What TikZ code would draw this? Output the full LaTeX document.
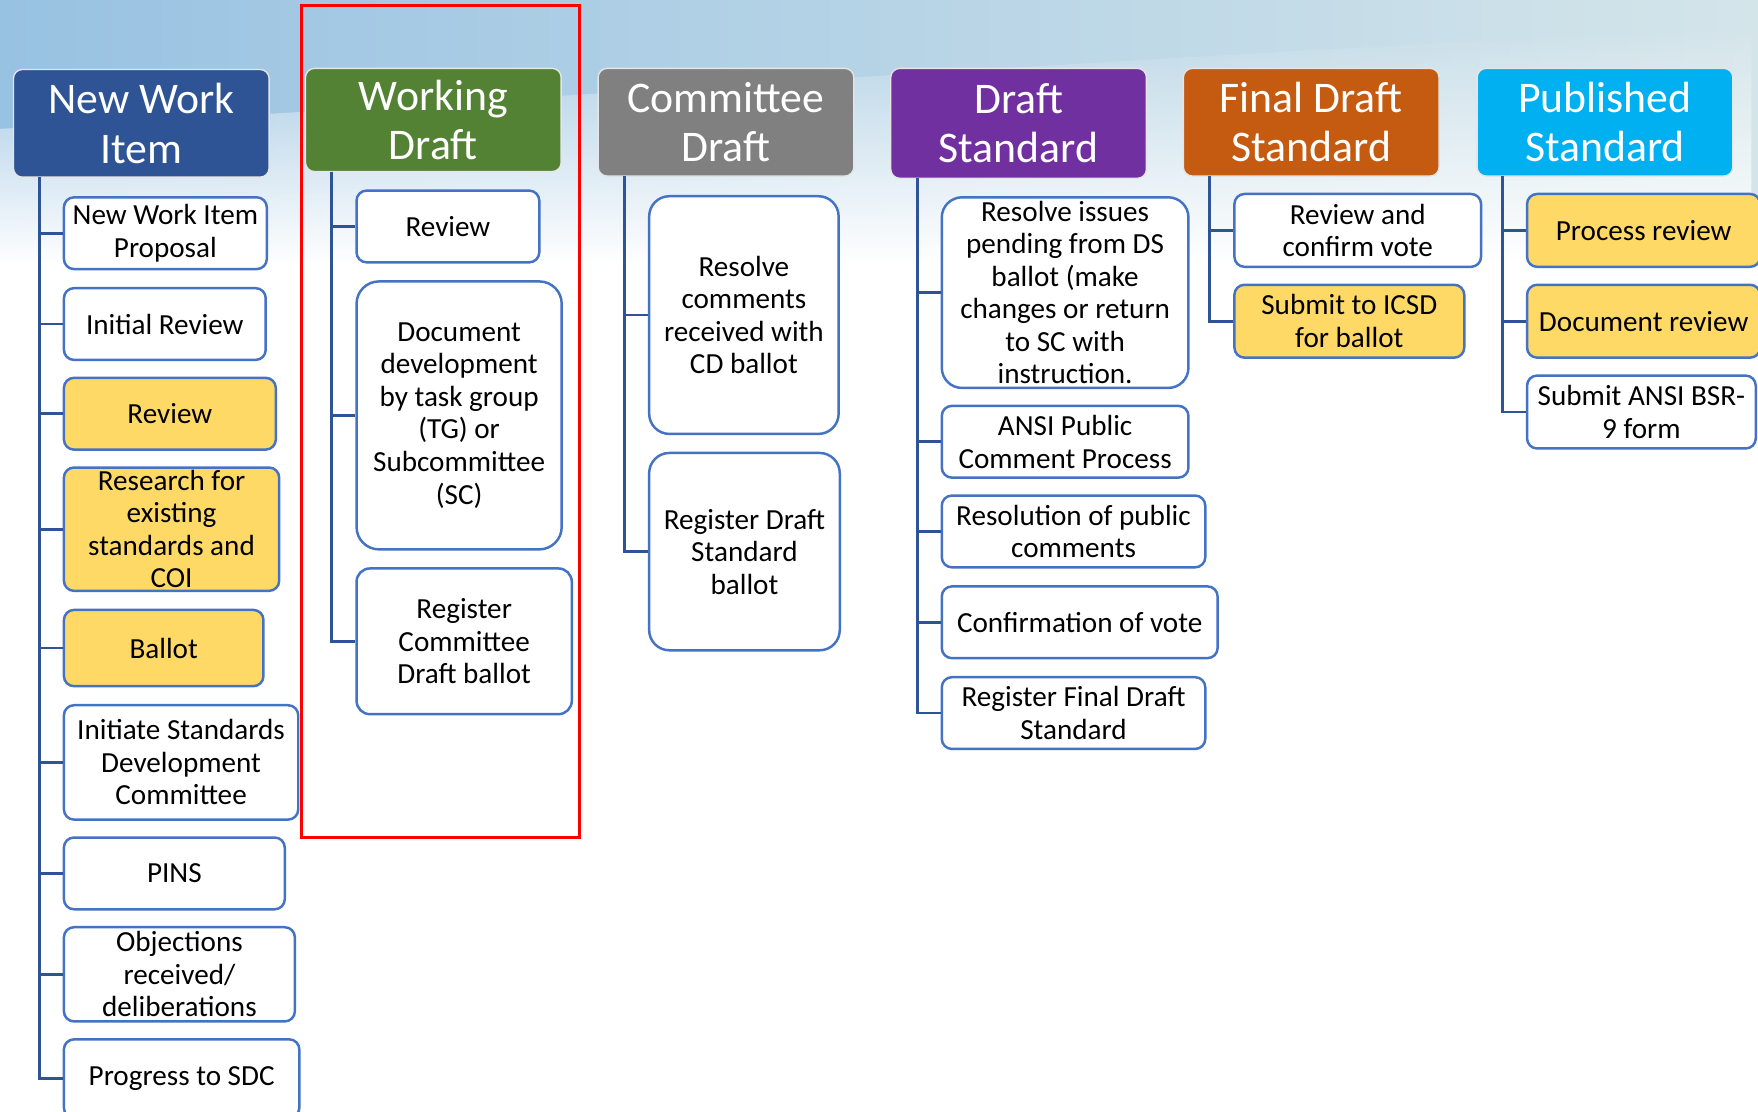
\documentclass[tikz,border=0pt]{standalone}
\usepackage{fontspec}
\setmainfont{Carlito}
\usetikzlibrary{positioning, fadings}

\definecolor{nwiblue}{RGB}{47,84,150}
\definecolor{wdgreen}{RGB}{84,130,53}
\definecolor{cdgrey}{RGB}{128,128,128}
\definecolor{dspurple}{RGB}{112,48,160}
\definecolor{fdorange}{RGB}{197,90,17}
\definecolor{pscyan}{RGB}{0,176,240}
\definecolor{holdyellow}{RGB}{255,217,102}
\definecolor{taskline}{RGB}{68,114,196}
\definecolor{trunkblue}{RGB}{47,84,150}
\definecolor{skyblue}{RGB}{152,194,226}
\definecolor{skypale}{RGB}{212,229,234}

\begin{document}
\begin{tikzpicture} [x=1pt, y=-1pt,
    stage/.style={rectangle, rounded corners=8pt, draw=white!80!gray, line width=1.2pt,
        text=white, inner sep=0pt, align=center, minimum width=228pt,
        font=\fontsize{39}{44}\selectfont},
    task/.style={rectangle, rounded corners=9pt, draw=taskline, line width=2.2pt,
        fill=white, inner sep=0pt, align=center, font=\fontsize{26}{29}\selectfont},
    hold/.style={task, fill=holdyellow},
    trunk/.style={draw=trunkblue, line width=2.5pt},
    elbow/.style={to path={|- (\tikztotarget)}}]

\useasboundingbox (0,0) rectangle (1568,991);

% backdrop
\shade [left color=skyblue, right color=skypale] (0,0) rectangle (1568,260);
\fill [white, path fading=north] (0,115) .. controls (400,95) and (1000,50) .. (1568,25)
    -- (1568,235) -- (0,235) -- cycle;
\fill [white] (0,234) rectangle (1568,991);

\node (h1) [stage, fill=nwiblue, minimum height=96pt] at (126, 110) {New Work\\Item};
\node (h2) [stage, fill=wdgreen, minimum height=92pt] at (386.5, 107) {Working\\Draft};
\node (h3) [stage, fill=cdgrey, minimum height=96pt] at (647.5, 109) {Committee\\Draft};
\node (h4) [stage, fill=dspurple, minimum height=98pt] at (908.5, 110) {Draft\\Standard};
\node (h5) [stage, fill=fdorange, minimum height=96pt] at (1169.5, 109) {Final Draft\\Standard};
\node (h6) [stage, fill=pscyan, minimum height=96pt] at (1431.5, 109) {Published\\Standard};

\coordinate (t1) at (35, 158);
\coordinate (t2) at (296, 153);
\coordinate (t3) at (557, 157);
\coordinate (t4) at (818, 159);
\coordinate (t5) at (1079, 157);
\coordinate (t6) at (1340, 157);

\node (c1a) [task, minimum width=181pt, minimum height=64pt] at (147.5, 208) {New Work Item\\Proposal};
\node (c1b) [task, minimum width=180pt, minimum height=64pt] at (147, 289) {Initial Review};
\node (c1c) [hold, minimum width=189pt, minimum height=64pt] at (151.5, 369) {Review};
\node (c1d) [hold, minimum width=192pt, minimum height=110pt] at (153, 472) {Research for\\existing\\standards and\\COI};
\node (c1e) [hold, minimum width=178pt, minimum height=68pt] at (146, 578) {Ballot};
\node (c1f) [task, minimum width=209pt, minimum height=102pt] at (161.5, 680) {Initiate Standards\\Development\\Committee};
\node (c1g) [task, minimum width=197pt, minimum height=64pt] at (155.5, 779) {PINS};
\node (c1h) [task, minimum width=206pt, minimum height=84pt] at (160, 869) {Objections\\received/\\deliberations};
\node (c1i) [task, minimum width=210pt, minimum height=70pt] at (162, 962) {Progress to SDC};

\node (c2a) [task, minimum width=163pt, minimum height=64pt] at (399.5, 202) {Review};
\node (c2b) [task, rounded corners=20pt, minimum width=183pt, minimum height=239pt] at (409.5, 370.5) {Document\\development\\by task group\\(TG) or\\Subcommittee\\(SC)};
\node (c2c) [task, rounded corners=12pt, minimum width=192pt, minimum height=130pt] at (414, 572) {Register\\Committee\\Draft ballot};

\node (c3a) [task, rounded corners=18pt, minimum width=169pt, minimum height=212pt] at (663.5, 281) {Resolve\\comments\\received with\\CD ballot};
\node (c3b) [task, rounded corners=18pt, minimum width=170pt, minimum height=176pt] at (664, 492) {Register Draft\\Standard\\ballot};

\node (c4a) [task, rounded corners=18pt, minimum width=220pt, minimum height=170pt] at (950, 261) {Resolve issues\\pending from DS\\ballot (make\\changes or return\\to SC with\\instruction.};
\node (c4b) [task, minimum width=220pt, minimum height=64pt] at (950, 394) {ANSI Public\\Comment Process};
\node (c4c) [task, minimum width=235pt, minimum height=64pt] at (957.5, 474) {Resolution of public\\comments};
\node (c4d) [task, minimum width=246pt, minimum height=64pt] at (963, 555) {Confirmation of vote};
\node (c4e) [task, minimum width=235pt, minimum height=64pt] at (957.5, 636) {Register Final Draft\\Standard};

\node (c5a) [task, minimum width=220pt, minimum height=65pt] at (1211, 205.5) {Review and\\confirm vote};
\node (c5b) [hold, minimum width=205pt, minimum height=65pt] at (1203.5, 286.5) {Submit to ICSD\\for ballot};

\node (c6a) [hold, minimum width=208pt, minimum height=65pt] at (1466, 205.5) {Process review};
\node (c6b) [hold, minimum width=208pt, minimum height=65pt] at (1466, 286.5) {Document review};
\node (c6c) [task, minimum width=204pt, minimum height=65pt] at (1464, 367.5) {Submit ANSI BSR-\\9 form};

% Lines
\path [trunk]
(t1) edge [elbow] (c1a.west)
(t1) edge [elbow] (c1b.west)
(t1) edge [elbow] (c1c.west)
(t1) edge [elbow] (c1d.west)
(t1) edge [elbow] (c1e.west)
(t1) edge [elbow] (c1f.west)
(t1) edge [elbow] (c1g.west)
(t1) edge [elbow] (c1h.west)
(t1) edge [elbow] (c1i.west)
(t2) edge [elbow] (c2a.west)
(t2) edge [elbow] (c2b.west)
(t2) edge [elbow] (c2c.west)
(t3) edge [elbow] (c3a.west)
(t3) edge [elbow] (c3b.west)
(t4) edge [elbow] (c4a.west)
(t4) edge [elbow] (c4b.west)
(t4) edge [elbow] (c4c.west)
(t4) edge [elbow] (c4d.west)
(t4) edge [elbow] (c4e.west)
(t5) edge [elbow] (c5a.west)
(t5) edge [elbow] (c5b.west)
(t6) edge [elbow] (c6a.west)
(t6) edge [elbow] (c6b.west)
(t6) edge [elbow] (c6c.west);

\draw [red, line width=2.5pt] (269, 5) rectangle (517, 747);
\end{tikzpicture}
\end{document}
